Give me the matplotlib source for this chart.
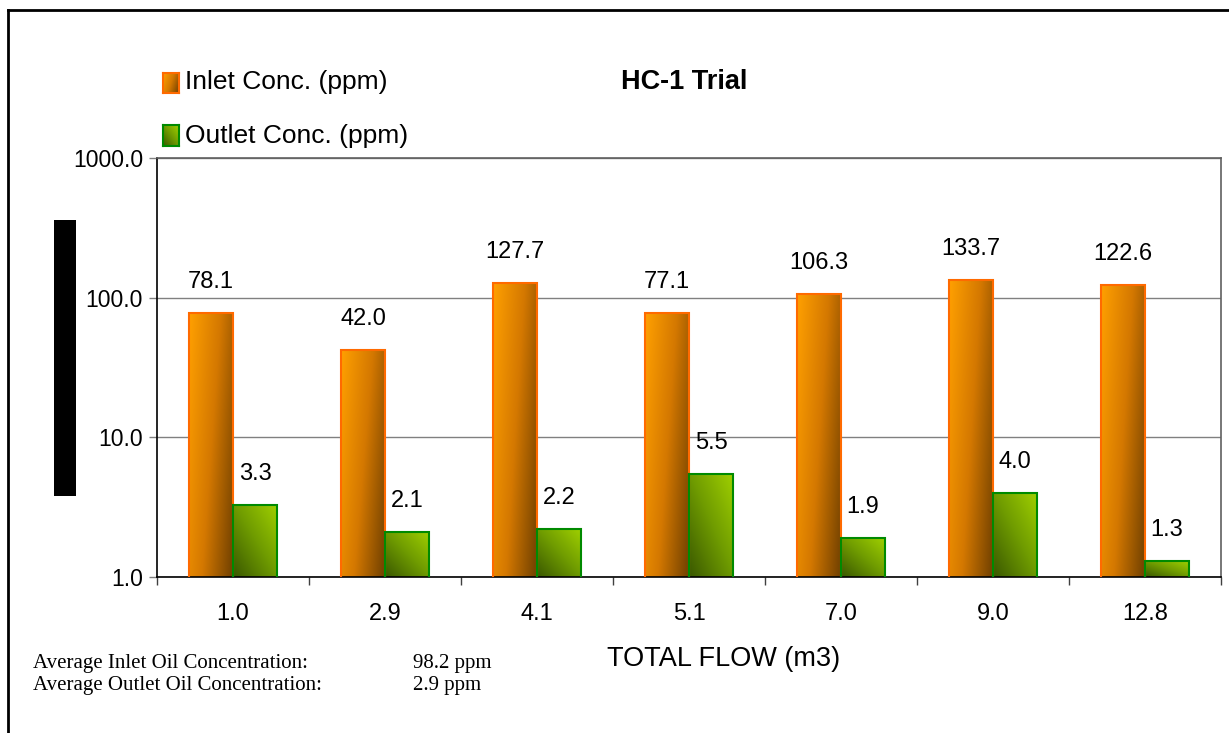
import numpy as np
import matplotlib
matplotlib.use('Agg')
import matplotlib.pyplot as plt
from matplotlib.colors import LinearSegmentedColormap
from matplotlib.lines import Line2D
from matplotlib.patches import Rectangle

# HC-1 trial: inlet / outlet oil concentration vs. total flow
flow_labels = ['1.0', '2.9', '4.1', '5.1', '7.0', '9.0', '12.8']
inlet = [78.1, 42.0, 127.7, 77.1, 106.3, 133.7, 122.6]
outlet = [3.3, 2.1, 2.2, 5.5, 1.9, 4.0, 1.3]

sans = ['Liberation Sans', 'DejaVu Sans']
serif = ['Liberation Serif', 'DejaVu Serif']

orange_cmap = LinearSegmentedColormap.from_list('orange', ['#FFA000', '#D47800', '#6E3F00'])
green_cmap = LinearSegmentedColormap.from_list('green', ['#3A5800', '#6E9A00', '#A0D000'])


def orange_grad(n=64):
    u, v = np.meshgrid(np.linspace(0, 1, n), np.linspace(0, 1, n))
    return orange_cmap(0.7 * u + 0.3 * (1 - v))


def green_grad(n=64):
    u, v = np.meshgrid(np.linspace(0, 1, n), np.linspace(0, 1, n))
    return green_cmap(0.5 * u + 0.5 * v)


fig = plt.figure(figsize=(12.29, 7.33), dpi=100)
ax = fig.add_axes([157 / 1229, 1 - 577 / 733, (1221 - 157) / 1229, (577 - 158) / 733])

ax.set_yscale('log')
ax.set_ylim(1, 1000)
ax.set_xlim(-0.5, len(flow_labels) - 0.5)

x = np.arange(len(flow_labels))
w = 0.29
bars_in = ax.bar(x - w / 2, inlet, w, facecolor='none',
                 edgecolor='#FF6A00', linewidth=1.5, zorder=3)
bars_out = ax.bar(x + w / 2, outlet, w, facecolor='none',
                  edgecolor='#008A00', linewidth=1.5, zorder=3)
ax.set_xlim(-0.5, len(flow_labels) - 0.5)
ax.set_ylim(1, 1000)

# gradient fills, placed in axes coords so the shading is linear on screen
to_axes = ax.transScale + ax.transLimits
ymin = ax.get_ylim()[0]
for bars, grad in [(bars_in, orange_grad), (bars_out, green_grad)]:
    for r in bars:
        x0, y0 = to_axes.transform((r.get_x(), ymin))
        x1, y1 = to_axes.transform((r.get_x() + r.get_width(), r.get_height()))
        ax.imshow(grad(), extent=(x0, x1, y0, y1), transform=ax.transAxes,
                  origin='lower', aspect='auto', interpolation='bilinear', zorder=2)

ax.set_xlim(-0.5, len(flow_labels) - 0.5)
ax.set_ylim(1, 1000)

for bars, vals in [(bars_in, inlet), (bars_out, outlet)]:
    for r, v in zip(bars, vals):
        ax.annotate(f'{v:.1f}', (r.get_x() + r.get_width() / 2, v), xytext=(0, 18),
                    textcoords='offset points', ha='center', va='baseline',
                    fontsize=17, family=sans)

# axes styling
ax.set_yticks([1, 10, 100, 1000])
ax.set_yticklabels(['1.0', '10.0', '100.0', '1000.0'], family=sans, fontsize=16.5)
ax.yaxis.set_minor_locator(matplotlib.ticker.NullLocator())
ax.tick_params(axis='y', length=6, width=1, pad=4, color='#808080')
ax.set_xticks(x)
ax.set_xticklabels(flow_labels, family=sans, fontsize=17)
ax.set_xticks(np.arange(-0.5, len(flow_labels), 1), minor=True)
ax.tick_params(axis='x', which='major', length=0, pad=19)
ax.tick_params(axis='x', which='minor', length=6, width=1, color='#404040')
ax.yaxis.grid(True, color='#808080', linewidth=1)
ax.set_axisbelow(True)
for side in ['left', 'bottom']:
    ax.spines[side].set_color('#000000')
for side in ['top', 'right']:
    ax.spines[side].set_color('#606060')
for s in ax.spines.values():
    s.set_linewidth(1.2)

fig.text(724 / 1229, 1 - 666 / 733, 'TOTAL FLOW (m3)', ha='center', va='baseline',
         fontsize=19.5, family=sans)

# title and legend
fig.text(684 / 1229, 1 - 89 / 733, 'HC-1 Trial', ha='center', va='baseline',
         fontsize=19.5, fontweight='bold', family=sans)
legend_items = [('Inlet Conc. (ppm)', orange_grad, '#FF6A00', 73, 93, 89),
                ('Outlet Conc. (ppm)', green_grad, '#008A00', 125, 146, 143)]
for label, grad, edge, top, bottom, base in legend_items:
    lax = fig.add_axes([163 / 1229, 1 - bottom / 733, 16 / 1229, (bottom - top) / 733])
    lax.imshow(grad(), origin='lower', aspect='auto', interpolation='bilinear')
    lax.set_xticks([])
    lax.set_yticks([])
    for s in lax.spines.values():
        s.set_color(edge)
        s.set_linewidth(1.5)
    fig.text(185 / 1229, 1 - base / 733, label, ha='left', va='baseline',
             fontsize=19, family=sans)

# masked axis-title block
fig.patches.append(Rectangle((54 / 1229, 1 - 496 / 733), 22 / 1229, 276 / 733,
                             transform=fig.transFigure, facecolor='black',
                             edgecolor='none'))

# summary lines
fig.text(33 / 1229, 1 - 668 / 733, 'Average Inlet Oil Concentration:',
         fontsize=15, family=serif, va='baseline')
fig.text(33 / 1229, 1 - 690 / 733, 'Average Outlet Oil Concentration:',
         fontsize=15, family=serif, va='baseline')
fig.text(413 / 1229, 1 - 668 / 733, f'{np.mean(inlet):.1f} ppm',
         fontsize=15, family=serif, va='baseline')
fig.text(413 / 1229, 1 - 690 / 733, f'{np.mean(outlet):.1f} ppm',
         fontsize=15, family=serif, va='baseline')

# outer frame (left and top edges)
fig.lines.append(Line2D([8 / 1229, 8 / 1229], [0, 1 - 10 / 733], transform=fig.transFigure,
                        color='black', linewidth=2))
fig.lines.append(Line2D([8 / 1229, 1], [1 - 10 / 733, 1 - 10 / 733], transform=fig.transFigure,
                        color='black', linewidth=2))

fig.savefig('out.png', dpi=100)
